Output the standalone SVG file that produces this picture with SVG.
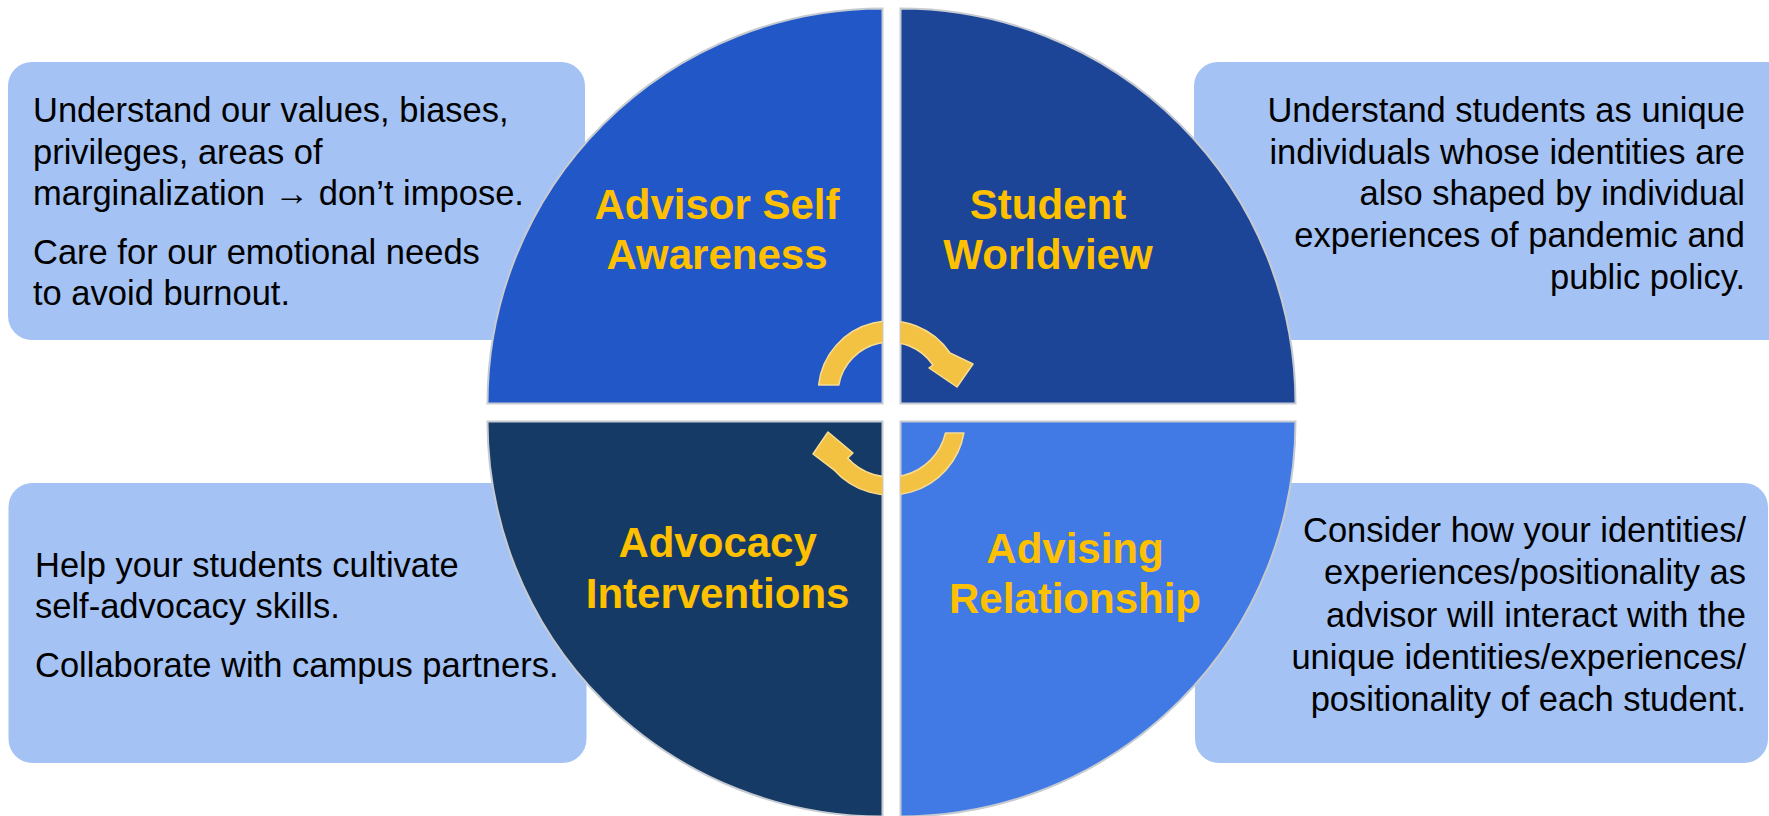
<svg xmlns="http://www.w3.org/2000/svg" width="1769" height="816" viewBox="0 0 1769 816">
  <style>
    .box { fill: #a4c2f4; }
    .body { font-family: "Liberation Sans", Arial, sans-serif; font-size: 34.5px; fill: #000; }
    .end { text-anchor: end; }
    .title { font-family: "Liberation Sans", Arial, sans-serif; font-size: 42px; font-weight: bold; fill: #ffc000; text-anchor: middle; }
    .quad { stroke: #c6cad1; stroke-width: 2; }
    .arrow { fill: #f4c243; stroke: #f8dc92; stroke-width: 1.5; stroke-linejoin: round; }
  </style>
  <defs>
    <clipPath id="quads">
      <path d="M 882.5 403.5 H 487.5 A 395 395 0 0 1 882.5 8.5 Z"/>
      <path d="M 900.5 403.5 V 8.5 A 395 395 0 0 1 1295.5 403.5 Z"/>
      <path d="M 882.5 421.5 V 816.5 A 395 395 0 0 1 487.5 421.5 Z"/>
      <path d="M 900.5 421.5 H 1295.5 A 395 395 0 0 1 900.5 816.5 Z"/>
    </clipPath>
  </defs>
  <rect width="1769" height="816" fill="#ffffff"/>

  <g id="box-self-awareness">
    <rect class="box" x="8" y="62" width="577" height="278" rx="24"/>
    <text class="body" x="33" y="122">Understand our values, biases,</text>
    <text class="body" x="33" y="163.7">privileges, areas of</text>
    <text class="body" x="33" y="205.3">marginalization → don’t impose.</text>
    <text class="body" x="33" y="263.7">Care for our emotional needs</text>
    <text class="body" x="33" y="305.3">to avoid burnout.</text>
  </g>
  <g id="box-student-worldview">
    <rect class="box" x="1194" y="62" width="600" height="278" rx="24"/>
    <text class="body end" x="1745" y="122">Understand students as unique</text>
    <text class="body end" x="1745" y="163.7">individuals whose identities are</text>
    <text class="body end" x="1745" y="205.3">also shaped by individual</text>
    <text class="body end" x="1745" y="247">experiences of pandemic and</text>
    <text class="body end" x="1745" y="288.7">public policy.</text>
  </g>
  <g id="box-advocacy">
    <rect class="box" x="8.5" y="483" width="578" height="280" rx="24"/>
    <text class="body" x="35" y="576.7">Help your students cultivate</text>
    <text class="body" x="35" y="618.3">self-advocacy skills.</text>
    <text class="body" x="35" y="676.7">Collaborate with campus partners.</text>
  </g>
  <g id="box-advising">
    <rect class="box" x="1195" y="483" width="573" height="280" rx="24"/>
    <text class="body end" x="1746" y="542">Consider how your identities/</text>
    <text class="body end" x="1746" y="584.3">experiences/positionality as</text>
    <text class="body end" x="1746" y="626.6">advisor will interact with the</text>
    <text class="body end" x="1746" y="668.9">unique identities/experiences/</text>
    <text class="body end" x="1746" y="711.2">positionality of each student.</text>
  </g>

  <g id="quad-self-awareness">
    <path class="quad" fill="#2257c8" d="M 882.5 403.5 H 487.5 A 395 395 0 0 1 882.5 8.5 Z"/>
    <text class="title" x="717" y="218.5">Advisor Self</text>
    <text class="title" x="717" y="269">Awareness</text>
  </g>
  <g id="quad-student-worldview">
    <path class="quad" fill="#1c4597" d="M 900.5 403.5 V 8.5 A 395 395 0 0 1 1295.5 403.5 Z"/>
    <text class="title" x="1048" y="218.5">Student</text>
    <text class="title" x="1048" y="269">Worldview</text>
  </g>
  <g id="quad-advocacy">
    <path class="quad" fill="#163a66" d="M 882.5 421.5 V 816.5 A 395 395 0 0 1 487.5 421.5 Z"/>
    <text class="title" x="717.6" y="556.7">Advocacy</text>
    <text class="title" x="717.6" y="608.3">Interventions</text>
  </g>
  <g id="quad-advising">
    <path class="quad" fill="#417ae5" d="M 900.5 421.5 H 1295.5 A 395 395 0 0 1 900.5 816.5 Z"/>
    <text class="title" x="1075" y="562.7">Advising</text>
    <text class="title" x="1075" y="612.7">Relationship</text>
  </g>

  <g id="connectors" clip-path="url(#quads)">
    <path class="arrow" d="M 818.6 385 A 72 72 0 0 1 950 353 L 973 364 L 957 387 L 929 368 L 933 365 A 52 52 0 0 0 838.8 385 Z"/>
    <path class="arrow" d="M 963.9 433 A 75 75 0 0 1 834.3 470.2 L 813 454 L 828 432 L 853 453 L 847.6 458.1 A 57 57 0 0 0 945.5 433 Z"/>
  </g>
</svg>
